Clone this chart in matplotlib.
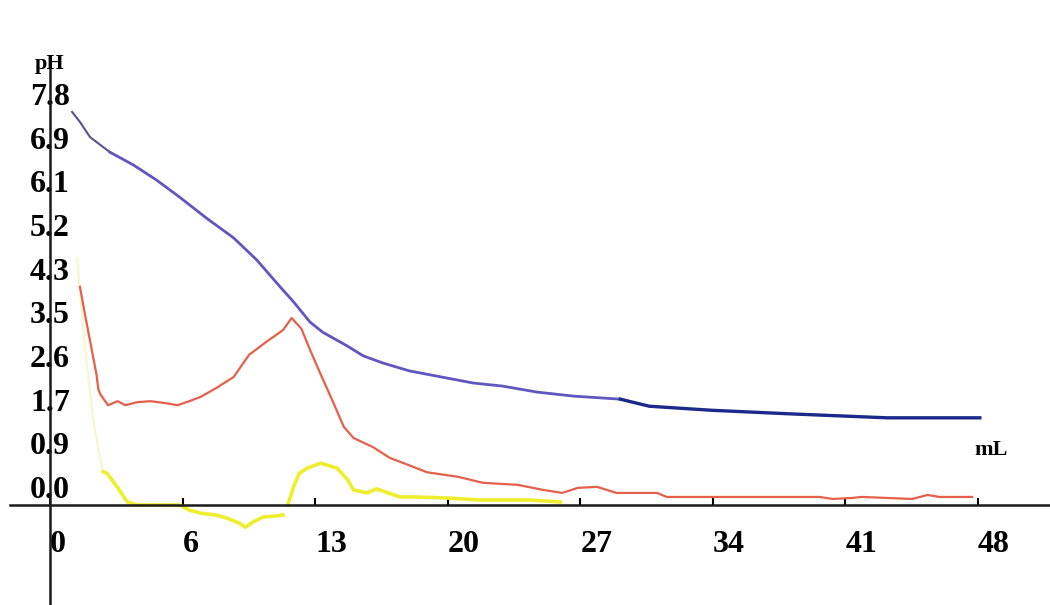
import numpy as np
import matplotlib
matplotlib.use('Agg')
import matplotlib.pyplot as plt

# pH curve (mL, pH)
blue_ml = [1.14, 1.55, 2.07, 3.1, 4.3, 5.5, 6.7, 8.1, 9.5, 10.7, 11.9, 12.6, 13.45, 14.1,
           15.4, 16.2, 17.2, 18.6, 19.7, 20.8, 21.9, 23.4, 25.2, 27.1, 29.5, 31.0,
           34.2, 38.2, 43.3, 48.1]
blue_ph = [7.8, 7.6, 7.3, 7.0, 6.75, 6.45, 6.11, 5.69, 5.3, 4.86, 4.33, 4.03, 3.63, 3.43,
           3.15, 2.96, 2.82, 2.66, 2.58, 2.50, 2.42, 2.36, 2.24, 2.16, 2.10, 1.96,
           1.88, 1.81, 1.73, 1.73]

# first derivative
red_ml = [1.55, 1.8, 2.1, 2.4, 2.5, 2.6, 3.0, 3.5, 3.9, 4.5, 5.2, 6.0, 6.6, 7.2, 7.76,
          8.6, 9.5, 10.3, 11.2, 12.05, 12.5, 13.0, 13.45, 13.97, 14.6, 15.2, 15.7,
          16.7, 17.6, 18.3, 19.5, 21.1, 22.4, 24.2, 25.5, 26.5, 27.3, 28.3, 29.3,
          31.4, 31.9, 39.8, 40.5, 41.5, 42.0, 43.3, 44.6, 45.4, 46.0, 47.7]
red_ph = [4.33, 3.8, 3.2, 2.6, 2.3, 2.2, 1.98, 2.06, 1.98, 2.04, 2.06, 2.02, 1.98, 2.06,
          2.14, 2.32, 2.54, 2.98, 3.24, 3.47, 3.71, 3.5, 3.08, 2.62, 2.08, 1.55, 1.33,
          1.15, 0.93, 0.83, 0.65, 0.56, 0.44, 0.40, 0.30, 0.24, 0.34, 0.36, 0.24,
          0.24, 0.16, 0.16, 0.12, 0.14, 0.16, 0.14, 0.12, 0.2, 0.16, 0.16]

# second derivative
yel_faint_ml = [1.4, 1.6, 1.9, 2.2, 2.5, 2.75]
yel_faint_ph = [4.9, 4.0, 2.8, 1.8, 1.1, 0.66]
yel1_ml = [2.75, 2.95, 3.47, 4.0, 4.5, 6.7, 7.2, 7.76, 8.6, 9.15, 9.8, 10.1, 10.5, 11.0,
           11.6, 12.05]
yel1_ph = [0.66, 0.63, 0.36, 0.06, 0.0, 0.0, -0.1, -0.16, -0.2, -0.26, -0.36, -0.44,
           -0.34, -0.24, -0.22, -0.2]
yel2_ml = [12.3, 12.6, 12.9, 13.3, 14.0, 14.85, 15.4, 15.7, 16.4, 16.9, 18.1, 18.8,
           20.5, 22.2, 24.8, 26.4]
yel2_ph = [0.0, 0.36, 0.63, 0.73, 0.83, 0.73, 0.5, 0.30, 0.24, 0.32, 0.16, 0.16,
           0.14, 0.10, 0.10, 0.06]

x_ticks = np.linspace(0, 48, 8)
x_labels = ['0', '6', '13', '20', '27', '34', '41', '48']
y_ticks = np.linspace(0, 7.8, 10)
y_labels = ['0.0', '0.9', '1.7', '2.6', '3.5', '4.3', '5.2', '6.1', '6.9', '7.8']

fig = plt.figure(figsize=(10.5, 6.05), dpi=100)
ax = fig.add_axes([0, 0, 1, 1])
ax.set_xlim(-2.587, 51.73)
ax.set_ylim(-1.984, 10.02)

ax.plot(yel_faint_ml, yel_faint_ph, color='#f6f6d0', lw=1.5)
ax.plot(yel1_ml, yel1_ph, color='#eeee2c', lw=2.6)
ax.plot(yel2_ml, yel2_ph, color='#eeee2c', lw=2.6)
ax.plot(red_ml, red_ph, color='#e4604a', lw=1.6)
ax.plot(blue_ml[:4], blue_ph[:4], color='#55558c', lw=1.5)
ax.plot(blue_ml[3:25], blue_ph[3:25], color='#5f56c0', lw=2.0)
ax.plot(blue_ml[24:], blue_ph[24:], color='#1b2a8a', lw=2.4)

for s in ['top', 'right']:
    ax.spines[s].set_visible(False)
ax.spines['left'].set_position(('data', 0))
ax.spines['bottom'].set_position(('data', 0))
ax.spines['left'].set_bounds(-1.984, 8.83)
ax.spines['bottom'].set_bounds(-2.07, 51.73)
for s in ['left', 'bottom']:
    ax.spines[s].set_linewidth(1.8)
    ax.spines[s].set_color('#1a1a1a')

font = dict(family='Liberation Serif', weight='bold', size=23)
ax.set_xticks(x_ticks, x_labels, ha='left', va='top', **font)
ax.set_yticks(y_ticks, y_labels, ha='center', va='bottom', **font)
ax.tick_params(axis='x', direction='in', length=5, width=1.5, pad=18)
ax.tick_params(axis='y', length=0, pad=0)

ax.text(0, 8.55, 'pH', ha='center', va='bottom', **dict(font, size=16))
ax.text(47.8, 0.9, 'mL', ha='left', va='bottom', **dict(font, size=16))

fig.savefig('out.png', dpi=100)
